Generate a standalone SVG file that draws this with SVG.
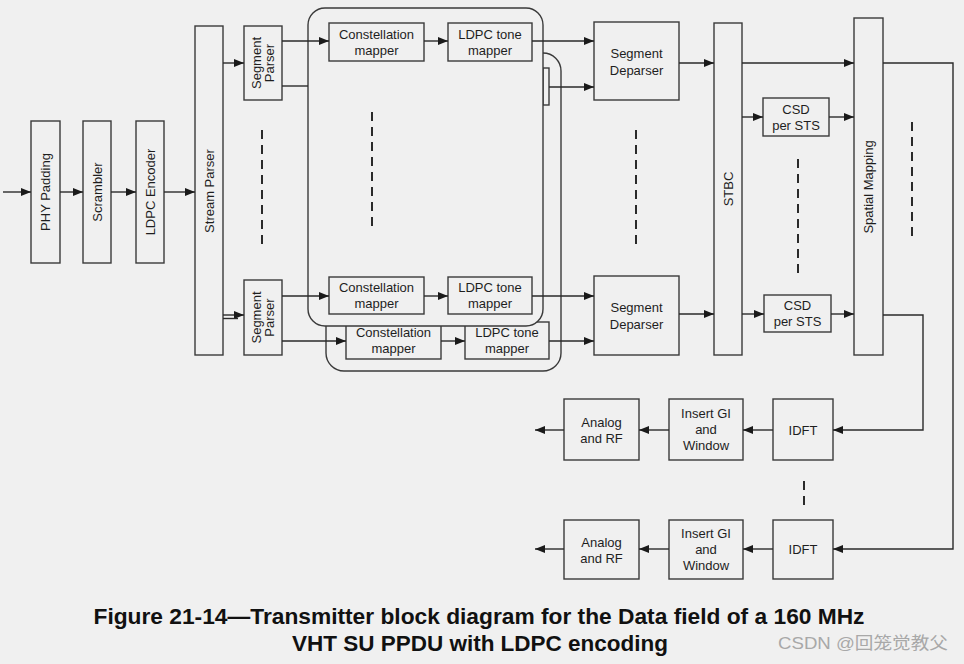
<svg xmlns="http://www.w3.org/2000/svg" width="964" height="664" viewBox="0 0 964 664">
<defs>
<marker id="ah" markerUnits="userSpaceOnUse" markerWidth="10" markerHeight="8" refX="10" refY="4" orient="auto">
<path d="M0,0 L10,4 L0,8 z" fill="#1a1a1a"/>
</marker>
<style>
.b{fill:#f0f0f0;stroke:#3a3a3a;stroke-width:1.4}
.rr{stroke:#3a3a3a;stroke-width:1.4}
.t{font-family:"Liberation Sans",Arial,sans-serif;font-size:13px;fill:#1e1e1e;text-anchor:middle}
.c{fill:none;stroke:#2a2a2a;stroke-width:1.4}
.a{marker-end:url(#ah)}
.d{fill:none;stroke:#2a2a2a;stroke-width:2;stroke-dasharray:9 6}
.cap{font-family:"Liberation Sans",Arial,sans-serif;font-size:22px;font-weight:bold;fill:#111;text-anchor:middle}
</style>
</defs>
<rect width="964" height="664" fill="#f0f0f0"/>

<g id="layer2">
<rect class="rr" x="326" y="53" width="235" height="318" rx="18" fill="none"/>
<rect class="b" x="543" y="68" width="6" height="37"/>
<rect class="b" x="346" y="322" width="95" height="37"/>
<text class="t" x="393.5" y="337">Constellation</text>
<text class="t" x="393.5" y="353">mapper</text>
<rect class="b" x="465" y="322" width="84" height="37"/>
<text class="t" x="507" y="337">LDPC tone</text>
<text class="t" x="507" y="353">mapper</text>
</g>

<g id="layer1">
<rect class="rr" x="308" y="8" width="235" height="318" rx="17" fill="#f0f0f0"/>
</g>

<g id="phy-padding"><rect class="b" x="31" y="121" width="29" height="142"/><text class="t" transform="translate(50,192) rotate(-90)">PHY Padding</text></g>
<g id="scrambler"><rect class="b" x="83" y="121" width="28" height="142"/><text class="t" transform="translate(101.5,192) rotate(-90)">Scrambler</text></g>
<g id="ldpc-encoder"><rect class="b" x="136" y="121" width="28" height="142"/><text class="t" transform="translate(154.5,192) rotate(-90)">LDPC Encoder</text></g>
<g id="stream-parser"><rect class="b" x="195" y="26" width="28" height="329"/><text class="t" transform="translate(213.5,191) rotate(-90)">Stream Parser</text></g>

<g id="seg-parser-1"><rect class="b" x="244" y="26" width="38" height="74"/><text class="t" transform="translate(261,63) rotate(-90)">Segment</text><text class="t" transform="translate(274,63) rotate(-90)">Parser</text></g>
<g id="seg-parser-2"><rect class="b" x="244" y="280" width="38" height="75"/><text class="t" transform="translate(261,317.5) rotate(-90)">Segment</text><text class="t" transform="translate(274,317.5) rotate(-90)">Parser</text></g>

<g id="const-mapper-1"><rect class="b" x="329" y="23" width="95" height="38"/><text class="t" x="376.5" y="39">Constellation</text><text class="t" x="376.5" y="55">mapper</text></g>
<g id="ldpc-tone-1"><rect class="b" x="448" y="23" width="84" height="38"/><text class="t" x="490" y="39">LDPC tone</text><text class="t" x="490" y="55">mapper</text></g>
<g id="const-mapper-2"><rect class="b" x="329" y="277" width="95" height="37"/><text class="t" x="376.5" y="292">Constellation</text><text class="t" x="376.5" y="308">mapper</text></g>
<g id="ldpc-tone-2"><rect class="b" x="448" y="277" width="84" height="37"/><text class="t" x="490" y="292">LDPC tone</text><text class="t" x="490" y="308">mapper</text></g>

<g id="seg-deparser-1"><rect class="b" x="594" y="22" width="85" height="78"/><text class="t" x="636.5" y="58">Segment</text><text class="t" x="636.5" y="75">Deparser</text></g>
<g id="seg-deparser-2"><rect class="b" x="594" y="276" width="85" height="79"/><text class="t" x="636.5" y="312">Segment</text><text class="t" x="636.5" y="329">Deparser</text></g>

<g id="stbc"><rect class="b" x="714" y="23" width="28" height="332"/><text class="t" transform="translate(732.5,189) rotate(-90)">STBC</text></g>
<g id="csd-1"><rect class="b" x="763" y="98" width="66" height="38"/><text class="t" x="796" y="114">CSD</text><text class="t" x="796" y="130">per STS</text></g>
<g id="csd-2"><rect class="b" x="764" y="295" width="67" height="37"/><text class="t" x="797.5" y="310">CSD</text><text class="t" x="797.5" y="326">per STS</text></g>
<g id="spatial-mapping"><rect class="b" x="854" y="18" width="29" height="337"/><text class="t" transform="translate(873,187) rotate(-90)">Spatial Mapping</text></g>

<g id="idft-1"><rect class="b" x="773" y="399" width="60" height="61"/><text class="t" x="803" y="435">IDFT</text></g>
<g id="insert-gi-1"><rect class="b" x="669" y="399" width="74" height="61"/><text class="t" x="706" y="418">Insert GI</text><text class="t" x="706" y="434">and</text><text class="t" x="706" y="450">Window</text></g>
<g id="analog-rf-1"><rect class="b" x="564" y="399" width="75" height="61"/><text class="t" x="601.5" y="427">Analog</text><text class="t" x="601.5" y="443">and RF</text></g>
<g id="idft-2"><rect class="b" x="773" y="520" width="60" height="59"/><text class="t" x="803" y="554">IDFT</text></g>
<g id="insert-gi-2"><rect class="b" x="669" y="520" width="74" height="59"/><text class="t" x="706" y="538">Insert GI</text><text class="t" x="706" y="554">and</text><text class="t" x="706" y="570">Window</text></g>
<g id="analog-rf-2"><rect class="b" x="564" y="520" width="75" height="59"/><text class="t" x="601.5" y="547">Analog</text><text class="t" x="601.5" y="563">and RF</text></g>

<g id="dashes">
<line class="d" x1="262" y1="130" x2="262" y2="244"/>
<line class="d" x1="372" y1="112" x2="372" y2="227"/>
<line class="d" x1="636" y1="130" x2="636" y2="244"/>
<line class="d" x1="798" y1="159" x2="798" y2="275"/>
<line class="d" x1="912" y1="122" x2="912" y2="237"/>
<line class="d" x1="804" y1="481" x2="804" y2="506"/>
</g>

<g id="connectors">
<line class="c a" x1="3" y1="192" x2="31" y2="192"/>
<line class="c a" x1="60" y1="192" x2="83" y2="192"/>
<line class="c a" x1="111" y1="192" x2="136" y2="192"/>
<line class="c a" x1="164" y1="192" x2="195" y2="192"/>
<line class="c a" x1="223" y1="63" x2="244" y2="63"/>
<line class="c a" x1="223" y1="315" x2="244" y2="315"/>
<line class="c" x1="223" y1="318.5" x2="238" y2="318.5"/>
<line class="c a" x1="282" y1="41" x2="329" y2="41"/>
<line class="c a" x1="424" y1="41" x2="448" y2="41"/>
<line class="c a" x1="532" y1="41" x2="594" y2="41"/>
<line class="c" x1="282" y1="86" x2="308" y2="86"/>
<line class="c a" x1="549" y1="87" x2="594" y2="87"/>
<line class="c a" x1="282" y1="296" x2="329" y2="296"/>
<line class="c a" x1="424" y1="296" x2="448" y2="296"/>
<line class="c a" x1="532" y1="296" x2="594" y2="296"/>
<line class="c a" x1="282" y1="341" x2="346" y2="341"/>
<line class="c a" x1="441" y1="341" x2="465" y2="341"/>
<line class="c a" x1="549" y1="341" x2="594" y2="341"/>
<line class="c a" x1="679" y1="63" x2="714" y2="63"/>
<line class="c a" x1="679" y1="314" x2="714" y2="314"/>
<line class="c a" x1="742" y1="63" x2="854" y2="63"/>
<line class="c a" x1="742" y1="117" x2="763" y2="117"/>
<line class="c a" x1="829" y1="117" x2="854" y2="117"/>
<line class="c a" x1="742" y1="314" x2="764" y2="314"/>
<line class="c a" x1="831" y1="314" x2="854" y2="314"/>
<path class="c a" d="M883,63 H953 V549 H833"/>
<path class="c a" d="M883,315 H923 V430 H833"/>
<line class="c a" x1="773" y1="430" x2="743" y2="430"/>
<line class="c a" x1="669" y1="430" x2="639" y2="430"/>
<line class="c a" x1="564" y1="430" x2="535" y2="430"/>
<line class="c a" x1="773" y1="549" x2="743" y2="549"/>
<line class="c a" x1="669" y1="549" x2="639" y2="549"/>
<line class="c a" x1="564" y1="549" x2="535" y2="549"/>
</g>

<g id="caption">
<text class="cap" x="479" y="624" textLength="771" lengthAdjust="spacingAndGlyphs">Figure 21-14—Transmitter block diagram for the Data field of a 160 MHz</text>
<text class="cap" x="480" y="651" textLength="376" lengthAdjust="spacingAndGlyphs">VHT SU PPDU with LDPC encoding</text>
<text x="863" y="649" font-family="'Liberation Sans','Noto Sans CJK SC',sans-serif" font-size="17" fill="#a8a8a8" text-anchor="middle" textLength="170" lengthAdjust="spacingAndGlyphs">CSDN @回笼觉教父</text>
</g>
</svg>
